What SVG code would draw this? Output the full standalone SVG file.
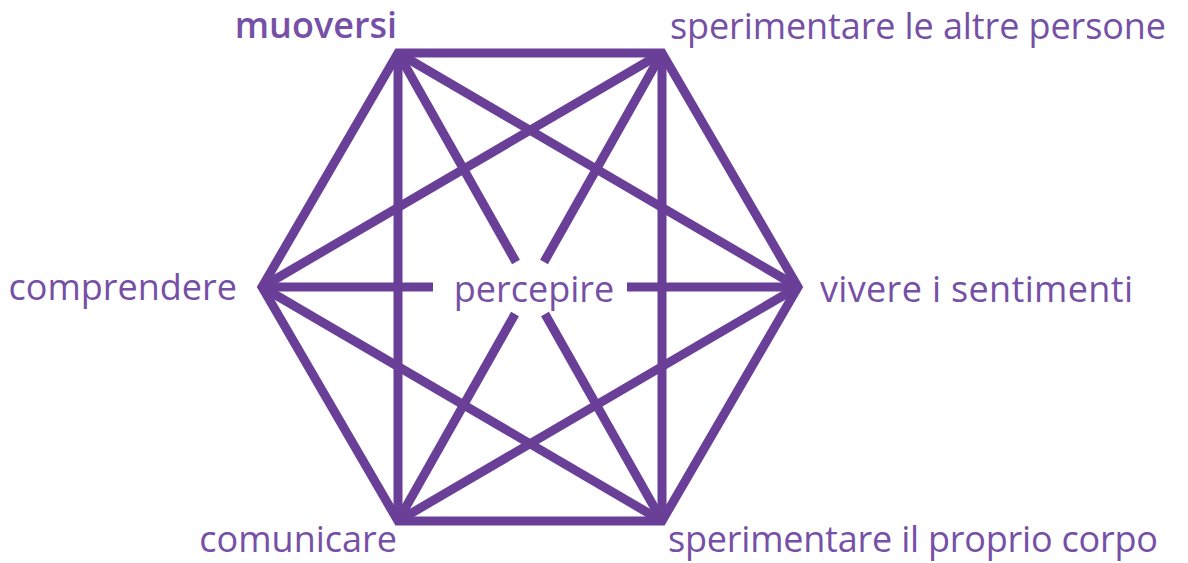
<svg xmlns="http://www.w3.org/2000/svg" width="1188" height="563" viewBox="0 0 1188 563">
<style>
.ln{stroke:#6a3f98;stroke-width:9;fill:none;stroke-linecap:butt;stroke-linejoin:miter}
.lb{font-family:"Open Sans","Noto Sans",sans-serif;font-size:36px;fill:#7550a6}
</style>
<rect width="1188" height="563" fill="#ffffff"/>
<g id="connectors">
<polygon class="ln" points="398,53 662,53 798,287 662,521 398,521 262,287"/>
<line class="ln" x1="398" y1="53" x2="398" y2="521"/>
<line class="ln" x1="662" y1="53" x2="662" y2="521"/>
<line class="ln" x1="398" y1="53" x2="798" y2="287"/>
<line class="ln" x1="662" y1="53" x2="262" y2="287"/>
<line class="ln" x1="262" y1="287" x2="662" y2="521"/>
<line class="ln" x1="798" y1="287" x2="398" y2="521"/>
<line class="ln" x1="398" y1="53" x2="516" y2="262"/>
<line class="ln" x1="545" y1="314" x2="662" y2="521"/>
<line class="ln" x1="662" y1="53" x2="544" y2="262"/>
<line class="ln" x1="515" y1="314" x2="398" y2="521"/>
<line class="ln" x1="262" y1="287" x2="433" y2="287"/>
<line class="ln" x1="627" y1="287" x2="798" y2="287"/>
</g>
<g id="node-muoversi"><text class="lb" x="397" y="38" text-anchor="end" font-weight="600" font-size="33">muoversi</text></g>
<g id="node-altre"><text class="lb" x="670" y="39" textLength="496">sperimentare le altre persone</text></g>
<g id="node-comprendere"><text class="lb" x="237" y="300" text-anchor="end">comprendere</text></g>
<g id="node-percepire"><text class="lb" x="534" y="302" text-anchor="middle">percepire</text></g>
<g id="node-vivere"><text class="lb" x="820" y="302" textLength="313">vivere i sentimenti</text></g>
<g id="node-comunicare"><text class="lb" x="397" y="552" text-anchor="end">comunicare</text></g>
<g id="node-corpo"><text class="lb" x="668" y="552" textLength="490">sperimentare il proprio corpo</text></g>
</svg>
